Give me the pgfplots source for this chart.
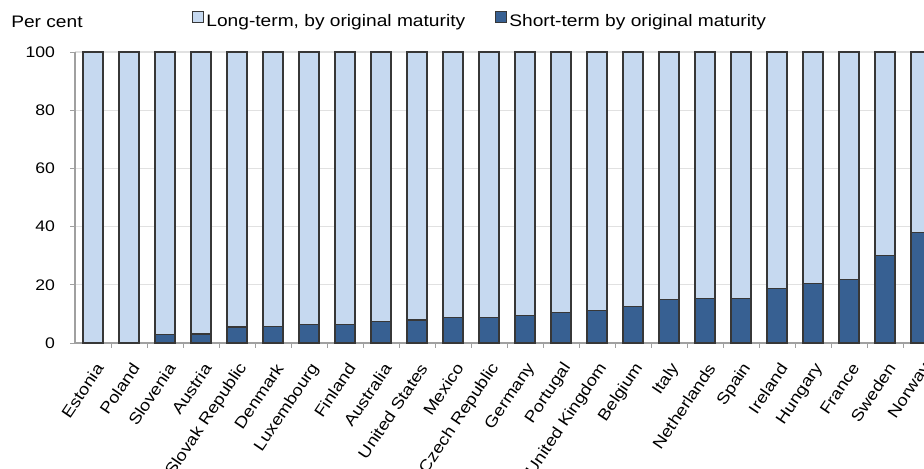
\documentclass[border=0pt]{standalone}
\usepackage{fontspec}
\setmainfont{Liberation Sans}[FakeStretch=1.15]
\usepackage{pgfplots}
\pgfplotsset{compat=1.18}
\usepackage{pgfplotstable}
\definecolor{ltblue}{RGB}{198,217,240}
\definecolor{dkblue}{RGB}{55,96,146}
\definecolor{barline}{RGB}{55,55,55}
\definecolor{axgray}{RGB}{160,160,160}
\definecolor{gridgray}{RGB}{225,225,225}
\pgfplotstableread{
x short long
0 0.0 100.0
1 0.3 99.7
2 2.8 97.2
3 3.1 96.9
4 5.5 94.5
5 5.8 94.2
6 6.2 93.8
7 6.3 93.7
8 7.5 92.5
9 7.9 92.1
10 8.7 91.3
11 8.9 91.1
12 9.3 90.7
13 10.5 89.5
14 11.1 88.9
15 12.7 87.3
16 15.0 85.0
17 15.4 84.6
18 15.3 84.7
19 18.7 81.3
20 20.3 79.7
21 21.9 78.1
22 30.2 69.8
23 38.0 62.0
}\datatable
\begin{document}
\begin{tikzpicture}
\useasboundingbox (-56.25pt,-93.75pt) rectangle (636.75pt,257.25pt);
\begin{axis}[
  at={(0pt,0pt)}, anchor=south west,
  scale only axis, width=636.75pt, height=218.25pt,
  xmin=-0.5, xmax=23.083, ymin=0, ymax=100,
  ybar stacked, bar width=15pt,
  axis lines*=left,
  axis line style={draw=axgray, line width=0.8pt},
  tick align=outside,
  major tick length=3.5pt,
  tick style={draw=axgray, line width=0.6pt},
  ytick={0,20,...,100},
  ymajorgrids, grid style={draw=gridgray, line width=0.8pt},
  xtick={0.5,1.5,...,22.5},
  xticklabels={Estonia,Poland,Slovenia,Austria,Slovak Republic,Denmark,Luxembourg,Finland,Australia,United States,Mexico,Czech Republic,Germany,Portugal,United Kingdom,Belgium,Italy,Netherlands,Spain,Ireland,Hungary,France,Sweden},
  extra x ticks={23},
  extra x tick labels={Norway},
  extra x tick style={xticklabel style={rotate=-56, xshift=13.5pt, rotate=56}, tick style={draw=none}},
  xticklabel style={font=\fontsize{12}{14}\selectfont, inner sep=0pt, anchor=east, xshift=-8.5pt, yshift=-13pt, rotate=56},
  yticklabel style={font=\fontsize{11.5}{13}\selectfont, xshift=-8pt},
  /pgf/number format/assume math mode=true,
  title={Per cent},
  title style={at={(axis description cs:-0.0754,1.0584)}, anchor=base west, inner sep=0pt, font=\fontsize{12.5}{14}\selectfont},
  legend image code/.code={\draw[#1] (0pt,-0.5pt) rectangle (8.5pt,8pt);},
  legend style={draw=none, fill=none, inner sep=0pt, at={(axis description cs:0.137,1.1065)}, anchor=west,
    font=\fontsize{12.5}{14}\selectfont, nodes={inner sep=2pt},
    /tikz/every even column/.append style={column sep=20pt}},
  legend columns=2, legend cell align=left,
]
\addlegendimage{fill=ltblue, draw=barline, line width=0.6pt}
\addlegendentry{Long-term, by original maturity}
\addlegendimage{fill=dkblue, draw=barline, line width=0.6pt}
\addlegendentry{Short-term by original maturity}
\addplot[ybar, fill=dkblue, draw=barline, line width=0.8pt, forget plot] table[x=x,y=short]{\datatable};
\addplot[ybar, fill=ltblue, draw=barline, line width=0.8pt, forget plot] table[x=x,y=long]{\datatable};
\end{axis}
\end{tikzpicture}
\end{document}
